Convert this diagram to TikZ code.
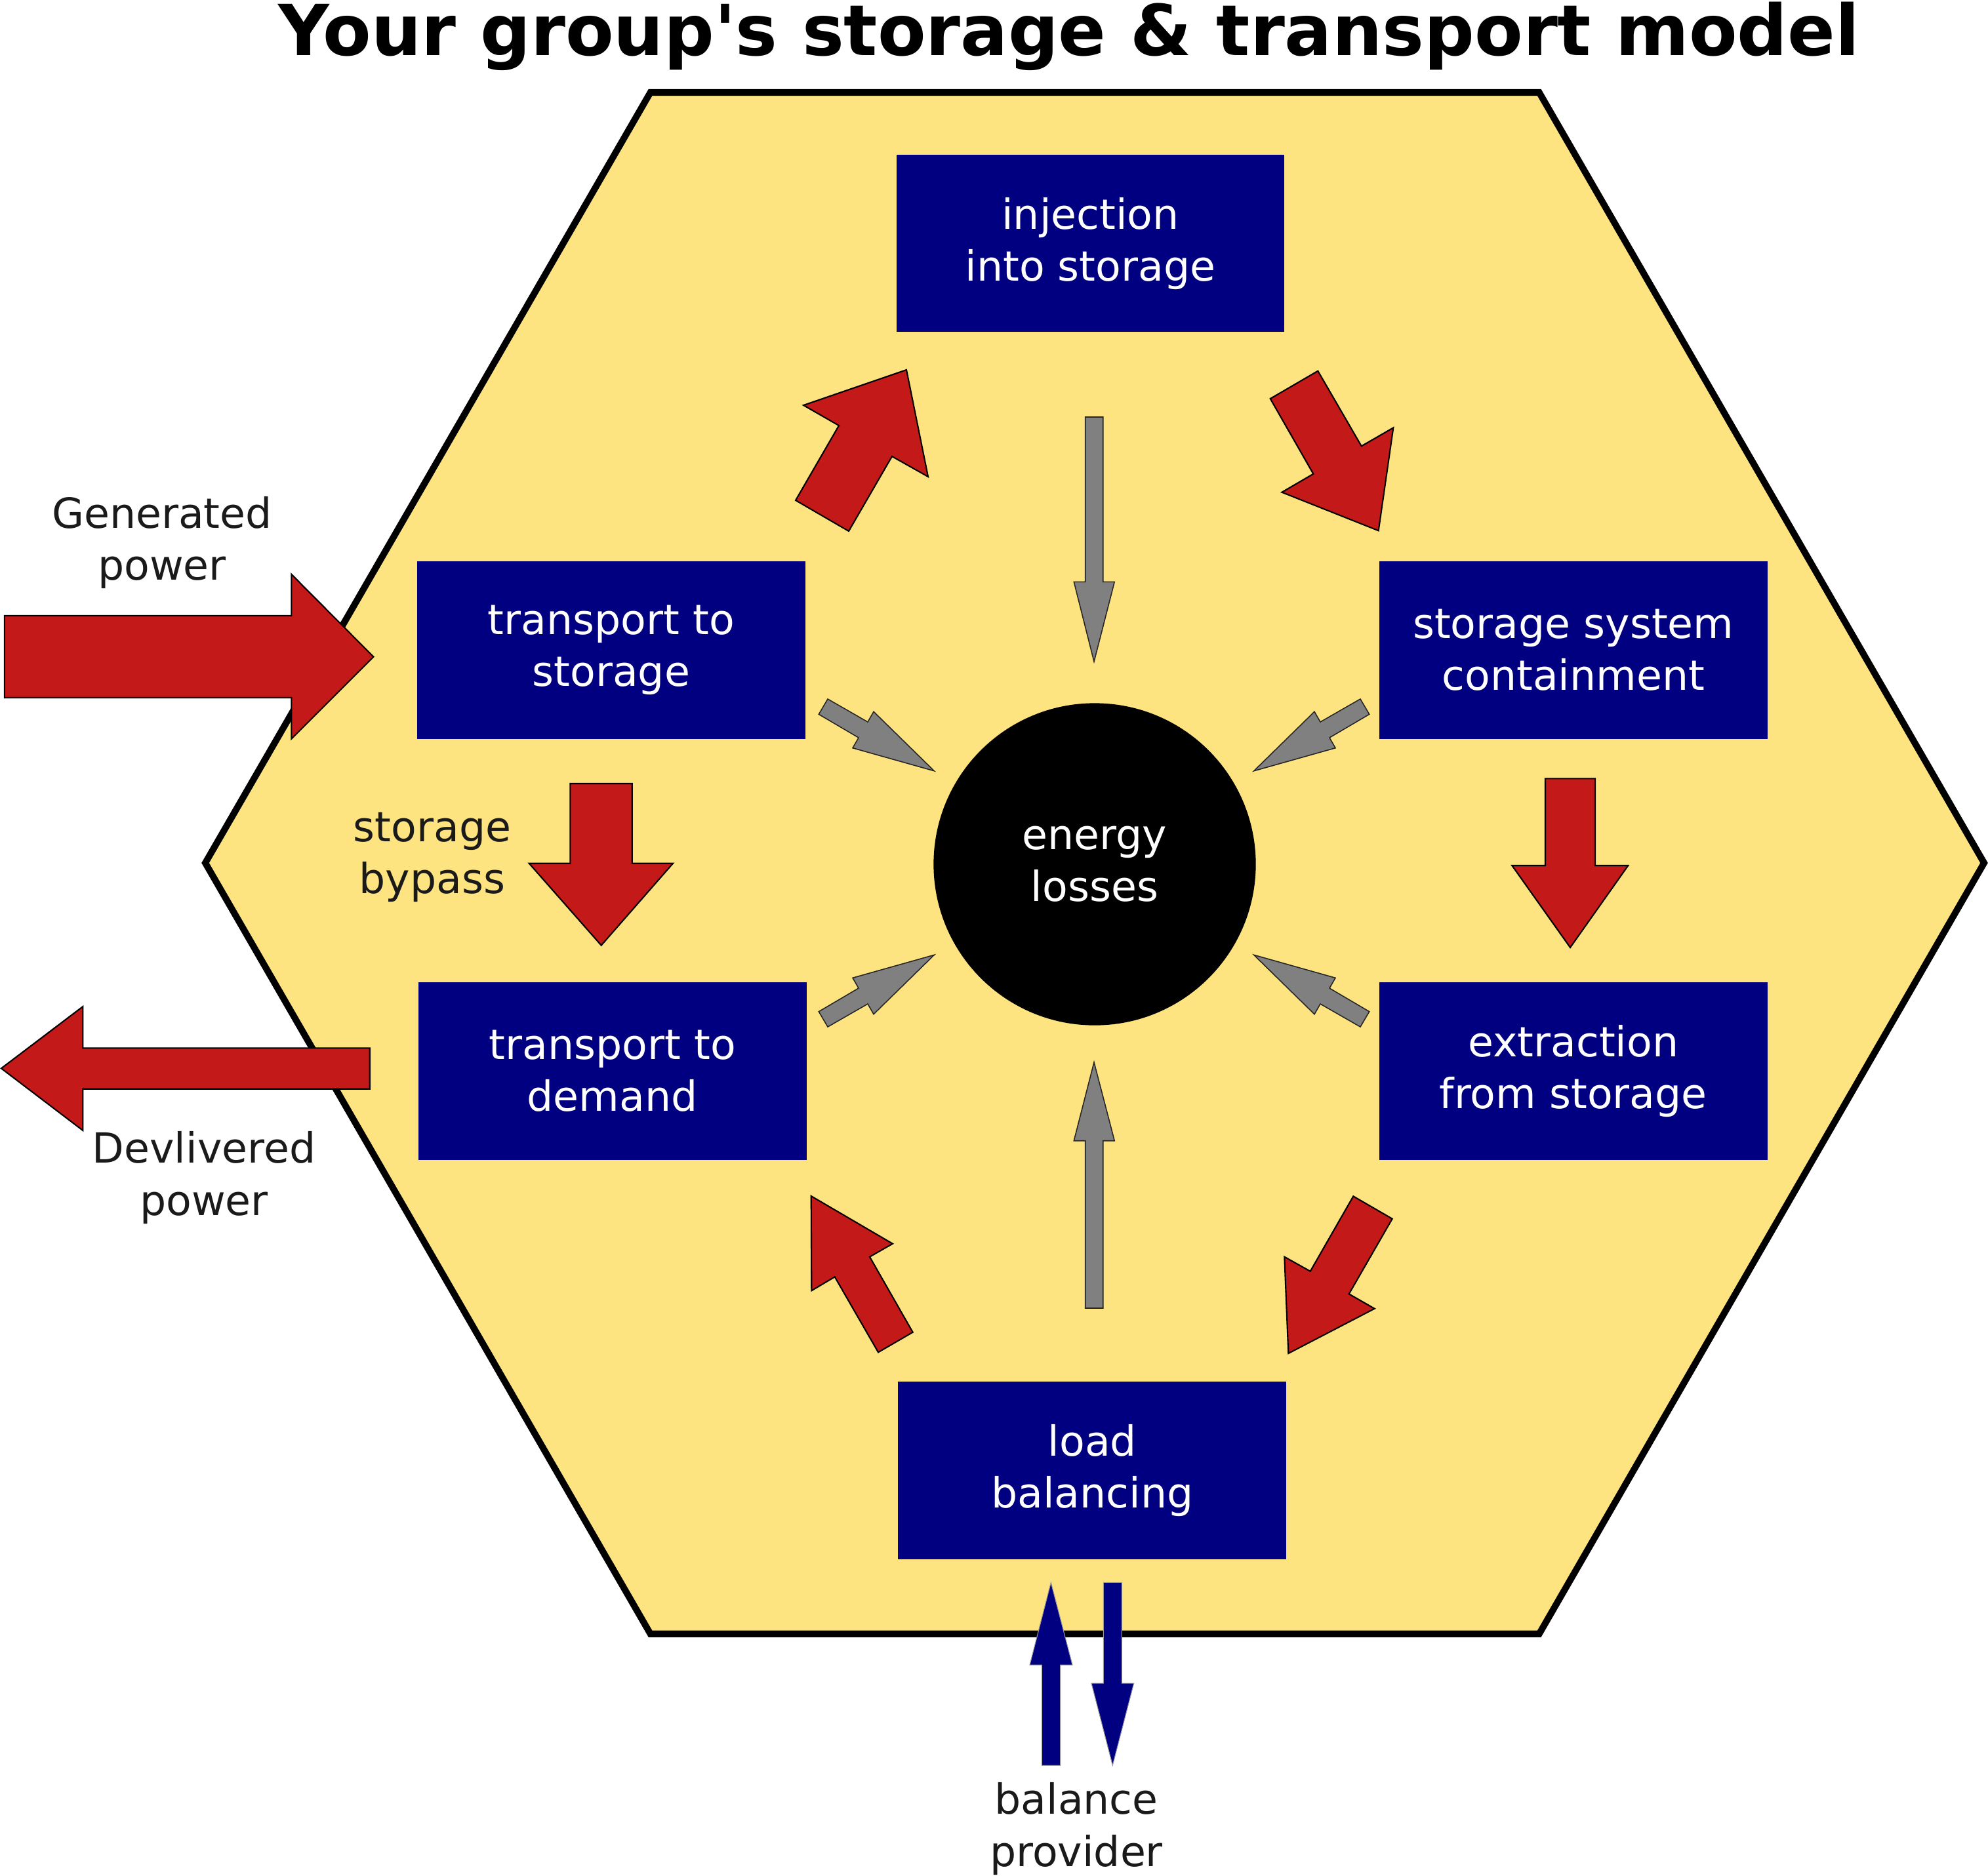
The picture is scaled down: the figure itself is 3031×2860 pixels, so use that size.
\documentclass[tikz,border=0pt]{standalone}
\usepackage{fontspec}
\setmainfont{DejaVu Sans}[Ligatures=TeXOff]
\definecolor{navybox}{RGB}{0,0,128}
\definecolor{arrowred}{RGB}{196,25,25}
\definecolor{hexyellow}{RGB}{253,228,128}
\definecolor{lossgray}{RGB}{128,128,128}
\definecolor{labelgray}{RGB}{26,26,26}
\newcommand\mylblfont{\fontsize{18pt}{22.5pt}\selectfont}
\newcommand\mytitlefont{\fontsize{30.5pt}{36pt}\selectfont\bfseries}
\begin{document}
\begin{tikzpicture}[x=0.01cm,y=-0.01cm,
  stagebox/.style={fill=navybox, text=white, minimum width=5.915cm, minimum height=2.706cm, inner sep=0pt, align=center, font=\mylblfont},
  redarrow/.style={fill=arrowred, draw=black, line width=0.6pt, line join=miter},
  grayarrow/.style={fill=lossgray, draw=black!85, line width=0.45pt, line join=miter},
  bluearrow/.style={fill=navybox, draw=black!40, line width=0.3pt, line join=miter},
  outlabel/.style={text=labelgray, align=center, font=\mylblfont, inner sep=0pt}]
\useasboundingbox (0,0) rectangle (3031,2860);
% hexagon
\draw[line width=2.85pt, fill=hexyellow, line join=miter]
  (991.6,141) -- (2346.7,141) -- (3025,1316) -- (2346.7,2491.7) -- (991.6,2491.7) -- (313,1316) -- cycle;
% title
\node[font=\mytitlefont, inner sep=0pt] (title) at (1630,55) {Your group's storage \& transport model};
% stage boxes
\node[stagebox] (inj) at (1662.4,371.1) {injection\\into storage};
\node[stagebox] (tts) at (931.8,991.5) {transport to\\storage};
\node[stagebox] (ssc) at (2398.8,991.5) {storage system\\containment};
\node[stagebox] (ttd) at (933.7,1633.4) {transport to\\demand};
\node[stagebox] (efs) at (2398.8,1633.4) {extraction\\from storage};
\node[stagebox] (lb) at (1665.3,2242.3) {load\\balancing};
% losses circle
\node[circle, fill=black, text=white, minimum size=4.91cm, inner sep=0pt, align=center, font=\mylblfont] (loss) at (1669,1318) {energy\\losses};
% red flow arrows
\draw[redarrow] (1213,763) -- (1279,649) -- (1225,618) -- (1382,564) -- (1415,727) -- (1360,696) -- (1294,810) -- cycle;
\draw[redarrow] (1936.7,608) -- (2009.3,565.7) -- (2075.7,680.3) -- (2124.3,652.3) -- (2101.7,809.3) -- (1954.3,750.7) -- (2002.3,722.7) -- cycle;
\draw[redarrow] (869.3,1195) -- (963.7,1195) -- (963.7,1316.7) -- (1026,1316.7) -- (916.7,1441.7) -- (806.7,1316.7) -- (869.3,1316.7) -- cycle;
\draw[redarrow] (2356,1187.3) -- (2432,1187.3) -- (2432,1320) -- (2482.3,1320) -- (2394,1445) -- (2305.3,1320) -- (2356,1320) -- cycle;
\draw[redarrow] (1339,2062.3) -- (1391.7,2031.7) -- (1326,1916.7) -- (1361,1896.7) -- (1236.7,1824) -- (1237.3,1968.3) -- (1272.7,1947.3) -- cycle;
\draw[redarrow] (2063.3,1824.3) -- (2122.7,1858.7) -- (2056.7,1973.3) -- (2095.7,1995.7) -- (1964.3,2064) -- (1958.3,1916.7) -- (1997.7,1938.7) -- cycle;
% generated / delivered power
\draw[redarrow] (6.9,939) -- (444.3,939) -- (444.3,875.7) -- (569.5,1001.7) -- (444.3,1126.7) -- (444.3,1064) -- (6.9,1064) -- cycle;
\draw[redarrow] (563.7,1598.3) -- (126.3,1598.3) -- (126.3,1535) -- (1.9,1629.3) -- (126.3,1724) -- (126.3,1660.7) -- (563.7,1660.7) -- cycle;
% gray loss arrows
\draw[grayarrow] (1262,1066) -- (1323,1101) -- (1332,1085.3) -- (1424.3,1175.7) -- (1300,1140.7) -- (1309,1125) -- (1248.3,1089.3) -- cycle;
\draw[grayarrow] (2074,1066) -- (2013,1101) -- (2004,1085.3) -- (1911.7,1175.7) -- (2036,1140.7) -- (2027,1125) -- (2087.7,1089.3) -- cycle;
\draw[grayarrow] (1262,1566) -- (1323,1531) -- (1332,1546.7) -- (1424.3,1456.3) -- (1300,1491.3) -- (1309,1507) -- (1248.3,1542.7) -- cycle;
\draw[grayarrow] (2074,1566) -- (2013,1531) -- (2004,1546.7) -- (1911.7,1456.3) -- (2036,1491.3) -- (2027,1507) -- (2087.7,1542.7) -- cycle;
\draw[grayarrow] (1654.7,636) -- (1681.7,636) -- (1681.7,887.3) -- (1699.2,887.3) -- (1668,1009) -- (1637.3,887.3) -- (1654.7,887.3) -- cycle;
\draw[grayarrow] (1654.7,1995) -- (1681.7,1995) -- (1681.7,1739.7) -- (1699.2,1739.7) -- (1668,1620) -- (1637.3,1739.7) -- (1654.7,1739.7) -- cycle;
% balance provider arrows
\draw[bluearrow] (1588.3,2692.3) -- (1616.7,2692.3) -- (1616.7,2539) -- (1635,2539) -- (1602.3,2413.3) -- (1570,2539) -- (1588.3,2539) -- cycle;
\draw[bluearrow] (1682.3,2413.3) -- (1710.3,2413.3) -- (1710.3,2567) -- (1728.7,2567) -- (1696.3,2692.3) -- (1664,2567) -- (1682.3,2567) -- cycle;
% outside labels
\node[outlabel] (gen) at (247,827.5) {Generated\\power};
\node[outlabel] (bypass) at (659,1307) {storage\\bypass};
\node[outlabel] (del) at (311,1796) {Devlivered\\power};
\node[outlabel] (bal) at (1641,2789) {balance\\provider};
\end{tikzpicture}
\end{document}
